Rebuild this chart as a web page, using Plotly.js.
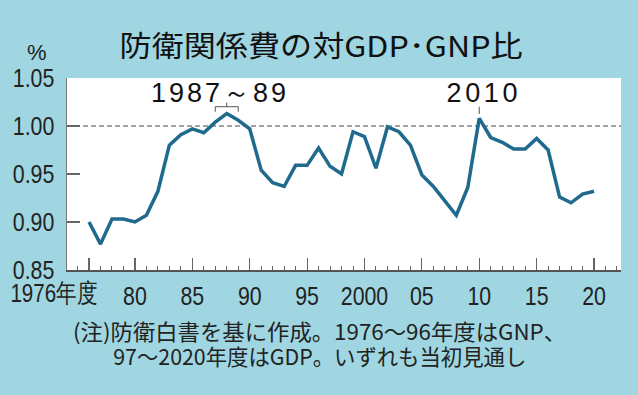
<!DOCTYPE html>
<html><head><meta charset="utf-8">
<script src="https://cdn.plot.ly/plotly-3.0.1.min.js"></script>
<style>html,body{margin:0;padding:0;background:#9fd6e1;}#chart{width:638px;height:395px;}</style>
</head><body><div id="chart"></div>
<script>
const years = [1976,1977,1978,1979,1980,1981,1982,1983,1984,1985,1986,1987,1988,1989,1990,1991,1992,1993,1994,1995,1996,1997,1998,1999,2000,2001,2002,2003,2004,2005,2006,2007,2008,2009,2010,2011,2012,2013,2014,2015,2016,2017,2018,2019,2020];
const ratio = [0.900,0.877,0.903,0.903,0.900,0.907,0.932,0.980,0.991,0.997,0.993,1.004,1.013,1.006,0.997,0.954,0.941,0.937,0.959,0.959,0.977,0.958,0.950,0.994,0.989,0.956,0.999,0.994,0.980,0.949,0.937,0.922,0.907,0.936,1.008,0.988,0.983,0.976,0.976,0.987,0.975,0.926,0.920,0.929,0.932];
const xTickVals = [1976,1980,1985,1990,1995,2000,2005,2010,2015,2020];
const xTickText = ['', '80','85','90','95','2000','05','10','15','20'];
const yTickVals = [0.85,0.90,0.95,1.00,1.05];
const titleText = '防衛関係費の対GDP･GNP比';
const noteLine1 = '(注)防衛白書を基に作成。1976～96年度はGNP、';
const noteLine2 = '97～2020年度はGDP。いずれも当初見通し';
const peakSpan = [1987, 1988, 1989];
const peakSpanLabel = '1987～89';
const peak2 = 2010;
const peak2Label = '2010';
const firstYearLabel = '1976年度';
const refLevel = 1.00;

const latin = '"Liberation Sans", Arial, sans-serif';
const cjk = '"Noto Sans CJK JP", "Noto Sans", sans-serif';
const gray = '#666666';

const trace = {
  x: years, y: ratio, type: 'scatter', mode: 'lines',
  line: {color: '#1f6a8d', width: 3.5}, hoverinfo: 'skip'
};

const layout = {
  width: 638, height: 395,
  paper_bgcolor: '#9fd6e1', plot_bgcolor: '#ffffff',
  margin: {l: 67, r: 17, t: 78, b: 125},
  showlegend: false,
  xaxis: {
    range: [1974.08, 2022.35], showgrid: false, zeroline: false,
    showline: true, linecolor: '#555555', linewidth: 1.5,
    tickmode: 'array', tickvals: xTickVals, ticktext: xTickText,
    ticks: 'inside', ticklen: 12, tickwidth: 1.2, tickcolor: gray,
    minor: {tick0: 1976, dtick: 1, ticks: 'inside', ticklen: 4, tickwidth: 1, tickcolor: gray, showgrid: false},
    tickfont: {family: latin, size: 26, color: '#222222'},
    ticklabelstandoff: 2, fixedrange: true
  },
  yaxis: {
    range: [0.85, 1.05], showgrid: false, zeroline: false,
    showline: true, linecolor: '#777777', linewidth: 1.5,
    tickmode: 'array', tickvals: yTickVals, tickformat: '.2f',
    ticks: 'inside', ticklen: 13, tickwidth: 1.5, tickcolor: gray,
    tickfont: {family: latin, size: 26, color: '#222222'},
    ticklabelstandoff: 6, fixedrange: true
  },
  shapes: [
    {type: 'line', xref: 'paper', yref: 'y', x0: 0, x1: 1, y0: refLevel, y1: refLevel,
     line: {color: '#444444', width: 1, dash: '5px,3px'}, layer: 'below'},
    {type: 'line', xref: 'x', yref: 'paper', x0: peakSpan[0], x1: peakSpan[2], y0: 0.8505, y1: 0.8505, line: {color: '#555555', width: 1}},
    {type: 'line', xref: 'x', yref: 'paper', x0: peakSpan[0], x1: peakSpan[0], y0: 0.8505, y1: 0.824, line: {color: '#555555', width: 1}},
    {type: 'line', xref: 'x', yref: 'paper', x0: peakSpan[2], x1: peakSpan[2], y0: 0.8505, y1: 0.824, line: {color: '#555555', width: 1}},
    {type: 'line', xref: 'x', yref: 'paper', x0: peakSpan[1], x1: peakSpan[1], y0: 0.8505, y1: 0.872, line: {color: '#555555', width: 1}},
    {type: 'line', xref: 'x', yref: 'paper', x0: peak2, x1: peak2, y0: 0.8505, y1: 0.8125, line: {color: '#555555', width: 1}}
  ],
  annotations: [
    {text: titleText, xref: 'paper', yref: 'paper', x: 0.458, xanchor: 'center', y: 1.0, yshift: 34, yanchor: 'middle', showarrow: false,
     font: {family: cjk, size: 29, color: '#111111'}},
    {text: '%', xref: 'paper', yref: 'paper', x: 0, xshift: -30, y: 1, yshift: 26, xanchor: 'center', yanchor: 'middle', showarrow: false,
     font: {family: latin, size: 22, color: '#222222'}},
    {text: peakSpanLabel, xref: 'x', yref: 'paper', x: peakSpan[1], xshift: -8, y: 0.92, yanchor: 'middle', showarrow: false,
     font: {family: latin, size: 27, color: '#111111'}},
    {text: peak2Label, xref: 'x', yref: 'paper', x: peak2, xshift: 3, y: 0.92, yanchor: 'middle', showarrow: false,
     font: {family: latin, size: 27, color: '#111111'}},
    {text: firstYearLabel, xref: 'x', yref: 'paper', x: years[0], xshift: -35.5, xanchor: 'center', y: 0, yshift: -23, yanchor: 'middle', showarrow: false,
     font: {family: latin, size: 26, color: '#222222'}},
    {text: noteLine1, xref: 'paper', yref: 'paper', x: 0.455, y: 0, yshift: -60, xanchor: 'center', yanchor: 'middle', showarrow: false,
     font: {family: cjk, size: 22, color: '#222222'}},
    {text: noteLine2, xref: 'paper', yref: 'paper', x: 0.455, y: 0, yshift: -85, xanchor: 'center', yanchor: 'middle', showarrow: false,
     font: {family: cjk, size: 22, color: '#222222'}}
  ]
};

// target text widths (px) for annotations, by index, to mimic the condensed/spaced typography
const annFit = [[403,'spacingAndGlyphs'], null, [135,'spacing'], [71,'spacing'], [87,'spacingAndGlyphs'], [493,'spacingAndGlyphs'], [413,'spacingAndGlyphs']];
const tickCondense = 0.82;

Plotly.newPlot('chart', [trace], layout, {displayModeBar: false, staticPlot: true}).then(gd => {
  gd.querySelectorAll('.xtick text, .ytick text').forEach(t => {
    const w = t.getComputedTextLength();
    if (w > 0) { t.setAttribute('textLength', (w * tickCondense).toFixed(1)); t.setAttribute('lengthAdjust', 'spacingAndGlyphs'); }
  });
  gd.querySelectorAll('g.annotation').forEach(g => {
    const i = +g.getAttribute('data-index');
    const fit = annFit[i];
    const t = g.querySelector('text.annotation-text');
    if (fit && t) { t.setAttribute('textLength', fit[0]); t.setAttribute('lengthAdjust', fit[1]); }
  });
});
</script></body></html>
